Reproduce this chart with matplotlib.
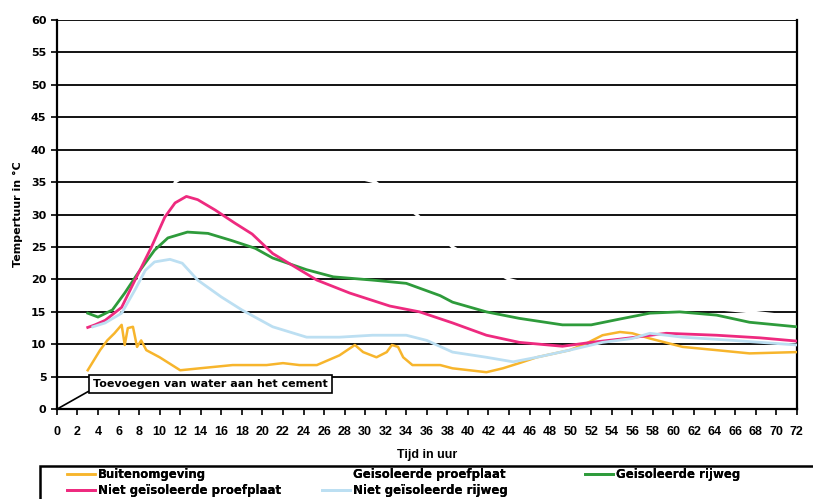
import matplotlib
matplotlib.use("Agg")
import matplotlib.pyplot as plt
from matplotlib.patches import Rectangle
import numpy as np

plt.rcParams['font.family'] = ['DejaVu Sans']
narrow = ['Liberation Sans Narrow', 'Liberation Sans']

# Buitenomgeving (orange)
h_buiten = [3, 4.2, 4.9, 5.6, 6.3, 6.6, 6.9, 7.4, 7.8, 8.2, 8.7, 10, 12, 13.9, 17.1, 20.4, 22, 23.6,
            25.3, 27.5, 29, 29.8, 31.1, 32.1, 32.6, 33.2, 33.7, 34.6, 37.3, 38.5, 41.8, 43.4,
            45, 46.7, 49.9, 51.6, 53.1, 54.8, 56, 57.7, 60.9, 64.2, 67.4, 72]
t_buiten = [6, 9.1, 10.6, 11.7, 13, 9.9, 12.5, 12.7, 9.6, 10.6, 9.1, 8, 6, 6.3, 6.8, 6.8, 7.1, 6.8,
            6.8, 8.3, 9.9, 8.8, 8.0, 8.8, 9.9, 9.6, 8.0, 6.8, 6.8, 6.3, 5.7, 6.3,
            7.1, 8.0, 9.1, 10.2, 11.4, 11.9, 11.7, 10.9, 9.6, 9.1, 8.6, 8.8]

# Geisoleerde proefplaat (white)
h_geis_plaat = [3, 6, 8, 10, 11.5, 14, 18, 22, 26, 31, 35, 38.5, 44, 50, 56, 62, 67.5, 72]
t_geis_plaat = [13, 15, 20, 27, 35, 37.5, 38.5, 38, 37, 35, 30, 25, 20, 17.5, 16.2, 15.8, 15, 14.2]

# Geisoleerde rijweg (green)
h_geis_weg = [3, 4, 5.4, 6.6, 7.9, 9.5, 10.8, 12.7, 14.7, 17, 19.3, 21, 24.3, 26.9, 30.7, 34,
              37.3, 38.5, 41.8, 45, 49.2, 52, 54.8, 57.7, 60.6, 64.2, 67.4, 72]
t_geis_weg = [14.8, 14.2, 15.3, 17.9, 21, 24.5, 26.4, 27.3, 27.1, 26, 24.8, 23.3, 21.5, 20.4, 19.9, 19.4,
              17.5, 16.5, 15, 14, 13, 13, 13.9, 14.8, 15, 14.5, 13.4, 12.7]

# Niet geisoleerde proefplaat (pink)
h_niet_plaat = [3, 3.7, 4.7, 6.3, 7.6, 9.2, 10.5, 11.5, 12.6, 13.7, 15.4, 17.3, 19, 21, 25.3, 28.5,
                32.4, 35.3, 38.5, 41.8, 45, 49.2, 52, 54.8, 59.3, 64.2, 68.4, 72]
t_niet_plaat = [12.6, 13, 13.7, 15.7, 19.9, 25, 29.6, 31.8, 32.8, 32.3, 30.7, 28.7, 27, 24, 19.9, 17.9,
                15.9, 15, 13.3, 11.4, 10.3, 9.7, 10.3, 10.8, 11.7, 11.4, 11, 10.5]

# Niet geisoleerde rijweg (light blue)
h_niet_weg = [3.5, 4.7, 6.3, 7.6, 8.6, 9.5, 11, 12.2, 13.7, 16, 18, 21, 24.3, 27.5, 30.7, 34, 36,
              38.5, 41.8, 44.4, 46.7, 49.9, 53.1, 56, 57.7, 60.9, 65.8, 72]
t_niet_weg = [12.7, 13.3, 14.8, 18.4, 21.4, 22.7, 23.1, 22.5, 19.9, 17.3, 15.3, 12.7, 11.1, 11.1, 11.4,
              11.4, 10.6, 8.8, 8.0, 7.3, 8.0, 9.1, 10.3, 10.9, 11.7, 11.1, 10.6, 9.9]

fig = plt.figure(figsize=(8.13, 4.99), dpi=100)
ax = fig.add_axes([0.070, 0.180, 0.910, 0.780])

for y in range(5, 61, 5):
    ax.axhline(y, color='black', lw=1.3, zorder=1)

l_plaat, = ax.plot(h_geis_plaat, t_geis_plaat, color='white', lw=2.2, zorder=2)
l_buiten, = ax.plot(h_buiten, t_buiten, color='#F7B52C', lw=1.8, zorder=3)
l_weg, = ax.plot(h_geis_weg, t_geis_weg, color='#2E9B3B', lw=2.0, zorder=3)
l_nplaat, = ax.plot(h_niet_plaat, t_niet_plaat, color='#EE2A7F', lw=2.0, zorder=3)
l_nweg, = ax.plot(h_niet_weg, t_niet_weg, color='#BCDFF2', lw=2.0, zorder=3)

ax.set_xlim(0, 72)
ax.set_ylim(0, 60)
ax.set_xticks(np.arange(0, 73, 2))
ax.set_yticks(np.arange(0, 61, 5))
ax.set_xticklabels([str(v) for v in range(0, 73, 2)], fontsize=9, fontweight='bold', family=narrow)
ax.set_yticklabels([str(v) for v in range(0, 61, 5)], fontsize=8, fontweight='bold')
ax.tick_params(axis='both', direction='out', length=4, width=1.2, colors='black')
ax.tick_params(axis='x', pad=8)
for s in ['left', 'bottom', 'right']:
    ax.spines[s].set_linewidth(1.6)
ax.spines['top'].set_visible(False)

ax.set_xlabel('Tijd in uur', fontsize=9, fontweight='bold', labelpad=8, family=narrow)
ax.set_ylabel('Tempertuur in °C', fontsize=8, fontweight='bold', labelpad=6)

ax.annotate('Toevoegen van water aan het cement', xy=(0, 0), xytext=(3.5, 3.9),
            fontsize=8, fontweight='bold', va='center', ha='left', zorder=5,
            bbox=dict(boxstyle='square,pad=0.35', fc='white', ec='black', lw=1.2),
            arrowprops=dict(arrowstyle='-', color='black', lw=1.2, relpos=(0, 0),
                            shrinkA=0, shrinkB=0))

# legend frame running off the bottom/right edge like the scan
fig.patches.append(Rectangle((40 / 813, -0.05), 1.0, 0.05 + 33 / 499, transform=fig.transFigure,
                             fill=False, ec='black', lw=1.8))

cols = [([l_buiten, l_nplaat], ['Buitenomgeving', 'Niet geïsoleerde proefplaat'], 67),
        ([l_plaat, l_nweg], ['Geisoleerde proefplaat', 'Niet geïsoleerde rijweg'], 322),
        ([l_weg], ['Geisoleerde rijweg'], 585)]
for hs, ls, xpx in cols:
    leg = fig.legend(hs, ls, loc='upper left', bbox_to_anchor=(xpx / 813, 0.062),
                     prop={'weight': 'bold', 'size': 8.5}, frameon=False,
                     borderaxespad=0, borderpad=0, handlelength=2.4, handletextpad=0.25,
                     labelspacing=0.25)
    fig.add_artist(leg)

fig.savefig('out.png', dpi=100)
